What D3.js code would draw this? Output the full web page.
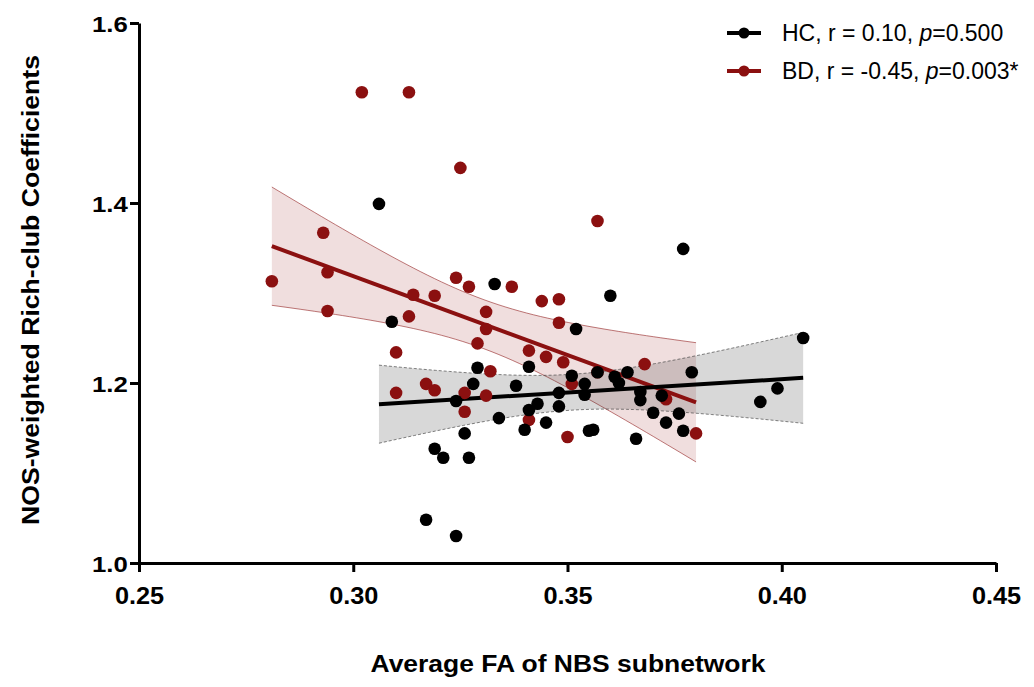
<!DOCTYPE html>
<html>
<head>
<meta charset="utf-8">
<script src="https://cdn.jsdelivr.net/npm/d3@7"></script>
<style>
  body { margin: 0; background: #fff; }
  svg text { font-family: "Liberation Sans", Arial, Helvetica, sans-serif; }
</style>
</head>
<body>
<svg id="chart" width="1034" height="687"></svg>
<script>
// Healthy controls (HC): average FA vs NOS-weighted rich-club coefficient
const hcFA = [0.306, 0.309, 0.333, 0.360, 0.377, 0.352, 0.329, 0.341, 0.328, 0.338,
              0.351, 0.348, 0.324, 0.343, 0.348, 0.341, 0.334, 0.345, 0.340, 0.326,
              0.319, 0.321, 0.327, 0.317, 0.324, 0.357, 0.364, 0.361, 0.362, 0.379,
              0.354, 0.354, 0.367, 0.367, 0.372, 0.370, 0.376, 0.373, 0.377, 0.355,
              0.356, 0.366, 0.399, 0.395, 0.405];
const hcRC = [1.399, 1.268, 1.310, 1.297, 1.349, 1.260, 1.217, 1.218, 1.199, 1.197,
              1.208, 1.189, 1.180, 1.177, 1.174, 1.170, 1.161, 1.156, 1.148, 1.144,
              1.127, 1.117, 1.117, 1.048, 1.030, 1.212, 1.212, 1.207, 1.200, 1.212,
              1.199, 1.187, 1.190, 1.181, 1.186, 1.167, 1.166, 1.156, 1.147, 1.147,
              1.148, 1.138, 1.194, 1.179, 1.250];

// Bipolar disorder (BD)
const bdFA = [0.281, 0.293, 0.294, 0.294, 0.302, 0.313, 0.325, 0.357, 0.310, 0.310,
              0.313, 0.314, 0.317, 0.319, 0.319, 0.324, 0.327, 0.337, 0.331, 0.331,
              0.329, 0.326, 0.326, 0.331, 0.332, 0.344, 0.348, 0.348, 0.341, 0.345,
              0.349, 0.351, 0.341, 0.350, 0.357, 0.368, 0.373, 0.380];
const bdRC = [1.313, 1.367, 1.323, 1.280, 1.523, 1.523, 1.439, 1.380, 1.234, 1.189,
              1.274, 1.298, 1.199, 1.192, 1.297, 1.317, 1.307, 1.307, 1.279, 1.260,
              1.244, 1.189, 1.168, 1.186, 1.213, 1.291, 1.293, 1.267, 1.236, 1.229,
              1.223, 1.199, 1.159, 1.140, 1.212, 1.221, 1.182, 1.144];

const xTicks = [0.25, 0.30, 0.35, 0.40, 0.45];
const yTicks = [1.0, 1.2, 1.4, 1.6];
const groupNames = ["HC", "BD"];
const groupR = ["0.10", "-0.45"];
const groupP = ["0.500", "0.003*"];

const RED = "#8b1010";
const BLACK = "#000";

const svg = d3.select("#chart");
const x = d3.scaleLinear().domain([0.25, 0.45]).range([139, 996]);
const y = d3.scaleLinear().domain([1.0, 1.6]).range([563, 23]);

// two-sided 95% t critical value (Cornish-Fisher style expansion)
function t975(df) {
  const z = 1.959964;
  return z + (z ** 3 + z) / (4 * df) + (5 * z ** 5 + 16 * z ** 3 + 3 * z) / (96 * df * df);
}

// least-squares line with 95% confidence band for the mean
function linearFit(xs, ys) {
  const n = xs.length, mx = d3.mean(xs), my = d3.mean(ys);
  let sxx = 0, sxy = 0;
  for (let i = 0; i < n; i++) { sxx += (xs[i] - mx) ** 2; sxy += (xs[i] - mx) * (ys[i] - my); }
  const b = sxy / sxx, a = my - b * mx;
  let sse = 0;
  for (let i = 0; i < n; i++) sse += (ys[i] - a - b * xs[i]) ** 2;
  const s = Math.sqrt(sse / (n - 2)), t = t975(n - 2);
  const [x0, x1] = d3.extent(xs);
  const band = d3.range(61).map(i => {
    const xv = x0 + (x1 - x0) * i / 60, yh = a + b * xv;
    const h = t * s * Math.sqrt(1 / n + (xv - mx) ** 2 / sxx);
    return { x: xv, lo: yh - h, hi: yh + h };
  });
  return { line: [[x0, a + b * x0], [x1, a + b * x1]], band };
}

const hcFit = linearFit(hcFA, hcRC);
const bdFit = linearFit(bdFA, bdRC);

const area = d3.area().x(d => x(d.x)).y0(d => y(d.lo)).y1(d => y(d.hi));
const edgeHi = d3.line().x(d => x(d.x)).y(d => y(d.hi));
const edgeLo = d3.line().x(d => x(d.x)).y(d => y(d.lo));
const fitLine = d3.line().x(d => x(d[0])).y(d => y(d[1]));

// confidence bands
function drawBand(fit, fill, stroke, dash) {
  svg.append("path").attr("d", area(fit.band)).attr("fill", fill);
  [edgeHi, edgeLo].forEach(g => svg.append("path").attr("d", g(fit.band))
    .attr("fill", "none").attr("stroke", stroke).attr("stroke-width", 0.8)
    .attr("stroke-dasharray", dash));
}
drawBand(bdFit, "rgba(139,0,0,0.13)", "rgba(139,16,16,0.7)", null);
drawBand(hcFit, "rgba(60,60,60,0.2)", "rgba(60,60,60,0.8)", "3,2");

// regression lines
svg.append("path").attr("d", fitLine(bdFit.line)).attr("stroke", RED)
  .attr("stroke-width", 4).attr("fill", "none");
svg.append("path").attr("d", fitLine(hcFit.line)).attr("stroke", BLACK)
  .attr("stroke-width", 4).attr("fill", "none");

// points
svg.append("g").selectAll("circle").data(d3.zip(bdFA, bdRC)).join("circle")
  .attr("cx", d => x(d[0])).attr("cy", d => y(d[1])).attr("r", 6.3).attr("fill", RED);
svg.append("g").selectAll("circle").data(d3.zip(hcFA, hcRC)).join("circle")
  .attr("cx", d => x(d[0])).attr("cy", d => y(d[1])).attr("r", 6.3).attr("fill", BLACK);

// axes
const xAxis = svg.append("g").attr("transform", "translate(0,563)")
  .call(d3.axisBottom(x).tickValues(xTicks).tickFormat(d3.format(".2f")).tickSize(9).tickSizeOuter(0));
const yAxis = svg.append("g").attr("transform", "translate(139,0)")
  .call(d3.axisLeft(y).tickValues(yTicks).tickFormat(d3.format(".1f")).tickSize(9).tickSizeOuter(0));
[xAxis, yAxis].forEach(ax => {
  ax.select(".domain").attr("stroke", "#000").attr("stroke-width", 3);
  ax.selectAll(".tick line").attr("stroke", "#000").attr("stroke-width", 3);
  ax.selectAll(".tick text").attr("fill", "#000").attr("font-size", 23)
    .attr("font-weight", "bold").attr("font-family", "Liberation Sans, Arial, sans-serif");
});
xAxis.selectAll(".tick text").attr("dy", null).attr("y", 41)
  .attr("transform", "scale(1.1,1)");
yAxis.selectAll(".tick text").attr("x", -10).attr("dy", "0.36em")
  .attr("transform", "scale(1.12,1)");

// axis titles
svg.append("text").attr("x", 568).attr("y", 672).attr("text-anchor", "middle")
  .attr("font-size", 23).attr("font-weight", "bold")
  .attr("textLength", 395).attr("lengthAdjust", "spacingAndGlyphs")
  .text("Average FA of NBS subnetwork");
svg.append("text").attr("transform", "translate(39,290) rotate(-90)")
  .attr("text-anchor", "middle").attr("font-size", 23).attr("font-weight", "bold")
  .attr("textLength", 470).attr("lengthAdjust", "spacingAndGlyphs")
  .text("NOS-weighted Rich-club Coefficients");

// legend
const legend = svg.append("g");
[BLACK, RED].forEach((c, i) => {
  const cy = 33 + i * 38;
  legend.append("line").attr("x1", 727).attr("x2", 761).attr("y1", cy).attr("y2", cy)
    .attr("stroke", c).attr("stroke-width", 4);
  legend.append("circle").attr("cx", 744).attr("cy", cy).attr("r", 5.5).attr("fill", c);
  const t = legend.append("text").attr("x", 782).attr("y", cy + 8).attr("font-size", 23)
    .attr("fill", "#000");
  t.append("tspan").text(`${groupNames[i]}, r = ${groupR[i]}, `);
  t.append("tspan").attr("font-style", "italic").text("p");
  t.append("tspan").text(`=${groupP[i]}`);
});
</script>
</body>
</html>
